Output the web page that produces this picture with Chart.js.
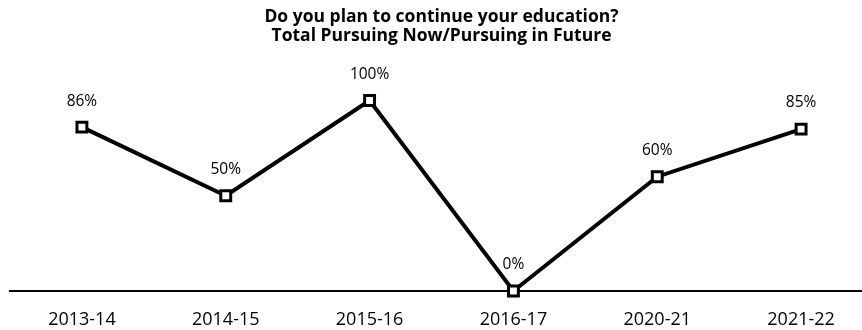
<!DOCTYPE html>
<html lang="en">
<head>
    <meta charset="UTF-8">
    <title>Continue Education</title>
    <script src="https://cdn.jsdelivr.net/npm/chart.js@4.4.0/dist/chart.umd.min.js"></script>
    <style>
        body {
            margin: 0;
            background: #fff;
            overflow: hidden;
        }
        .chart-container {
            width: 875px;
            height: 330px;
        }
    </style>
</head>
<body>
    <div class="chart-container">
        <canvas id="eduChart"></canvas>
    </div>

    <script>
        // Chart data
        const years = ['2013-14', '2014-15', '2015-16', '2016-17', '2020-21', '2021-22'];
        const pursuing = [86, 50, 100, 0, 60, 85];
        const titleLines = ['Do you plan to continue your education?', 'Total Pursuing Now/Pursuing in Future'];

        const fontFamily = "'Open Sans', sans-serif";

        // Draws the % label above each point
        const pointLabels = {
            id: 'pointLabels',
            afterDatasetsDraw(chart) {
                const ctx = chart.ctx;
                const meta = chart.getDatasetMeta(0);
                ctx.save();
                ctx.font = '15.5px ' + fontFamily;
                ctx.fillStyle = '#000';
                ctx.textAlign = 'center';
                ctx.textBaseline = 'middle';
                meta.data.forEach((pt, i) => {
                    ctx.fillText(pursuing[i] + '%', pt.x, pt.y - 26);
                });
                ctx.restore();
            }
        };

        new Chart(document.getElementById('eduChart'), {
            type: 'line',
            data: {
                labels: years,
                datasets: [{
                    data: pursuing,
                    borderColor: '#000',
                    borderWidth: 4,
                    pointStyle: 'rect',
                    pointRadius: 7,
                    pointBorderWidth: 3,
                    pointBackgroundColor: '#fff',
                    pointBorderColor: '#000',
                    tension: 0,
                    clip: false
                }]
            },
            options: {
                responsive: true,
                maintainAspectRatio: false,
                animation: false,
                layout: { autoPadding: false, padding: { left: 10, right: 2, top: 0, bottom: 2 } },
                plugins: {
                    legend: { display: false },
                    tooltip: { enabled: false },
                    title: {
                        display: true,
                        text: titleLines,
                        color: '#000',
                        font: { family: fontFamily, size: 17.5, weight: 'bold', lineHeight: 1.1 },
                        padding: { top: 7, bottom: 55 }
                    }
                },
                scales: {
                    x: {
                        offset: true,
                        grid: { display: false, drawTicks: false },
                        border: { display: true, color: '#000', width: 2 },
                        ticks: {
                            color: '#000',
                            padding: 18,
                            font: { family: fontFamily, size: 18 }
                        },
                        afterFit(scale) {
                            scale.height = 37;
                        }
                    },
                    y: {
                        display: false,
                        min: 0,
                        max: 100
                    }
                }
            },
            plugins: [pointLabels]
        });
    </script>
</body>
</html>
